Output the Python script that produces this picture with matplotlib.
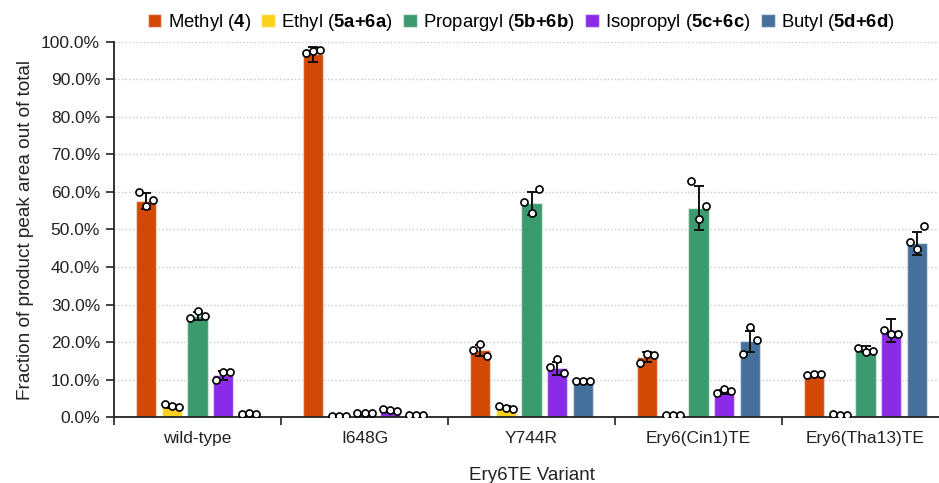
import numpy as np
import matplotlib.pyplot as plt
from matplotlib.ticker import FuncFormatter, FixedLocator

plt.rcParams['font.family'] = ['Liberation Sans', 'DejaVu Sans']
plt.rcParams['mathtext.fontset'] = 'custom'
plt.rcParams['mathtext.rm'] = 'Liberation Sans'
plt.rcParams['mathtext.bf'] = 'Liberation Sans:bold'

variants = ['wild-type', 'I648G', 'Y744R', 'Ery6(Cin1)TE', 'Ery6(Tha13)TE']

# mean values (%) per product
methyl = [57.6, 96.6, 17.8, 16.1, 11.3]
ethyl = [2.8, 0.4, 2.6, 0.6, 0.7]
propargyl = [27.0, 0.9, 57.0, 55.7, 18.1]
isopropyl = [11.2, 1.7, 13.0, 6.7, 23.2]
butyl = [0.9, 0.6, 9.7, 20.2, 46.3]

# error bars (%)
methyl_err = [2.2, 2.1, 1.5, 1.3, 0.1]
ethyl_err = [0.4, 0.1, 0.3, 0.1, 0.2]
propargyl_err = [1.0, 0.1, 3.1, 5.9, 0.8]
isopropyl_err = [1.2, 0.2, 1.8, 0.6, 3.1]
butyl_err = [0.1, 0.1, 0.1, 2.7, 3.0]

# replicate points (%)
methyl_pts = [[59.9, 56.2, 57.9], [96.9, 97.4, 97.8], [17.8, 19.4, 16.3],
              [14.4, 16.8, 16.7], [11.3, 11.4, 11.4]]
ethyl_pts = [[3.5, 3.0, 2.7], [0.3, 0.4, 0.4], [2.9, 2.6, 2.3],
             [0.7, 0.6, 0.7], [1.0, 0.5, 0.6]]
propargyl_pts = [[26.5, 28.2, 27.1], [1.2, 1.1, 1.1], [57.4, 54.3, 60.9],
                 [63.0, 52.7, 56.3], [18.4, 17.3, 17.7]]
isopropyl_pts = [[9.9, 12.1, 12.1], [2.2, 2.0, 1.8], [13.4, 15.5, 11.9],
                 [6.4, 7.6, 7.1], [23.2, 22.3, 22.3]]
butyl_pts = [[0.9, 1.1, 0.9], [0.7, 0.6, 0.7], [9.7, 9.7, 9.7],
             [16.9, 24.0, 20.5], [46.7, 44.9, 50.9]]

labels = [r'Methyl ($\mathbf{4}$)', r'Ethyl ($\mathbf{5a{+}6a}$)',
          r'Propargyl ($\mathbf{5b{+}6b}$)', r'Isopropyl ($\mathbf{5c{+}6c}$)',
          r'Butyl ($\mathbf{5d{+}6d}$)']
colors = ['#d14905', '#fdd21c', '#3c9a6f', '#8a2be8', '#45709c']

series = [methyl, ethyl, propargyl, isopropyl, butyl]
errors = [methyl_err, ethyl_err, propargyl_err, isopropyl_err, butyl_err]
points = [methyl_pts, ethyl_pts, propargyl_pts, isopropyl_pts, butyl_pts]

fig = plt.figure(figsize=(9.39, 4.83), dpi=100)
ax = fig.add_axes([114 / 939, 1 - 417.3 / 483, 835 / 939, 375.6 / 483])

centers = np.arange(len(variants)) + 0.5
step = 0.154
width = 0.12
jitter = [-0.042, 0.0, 0.042]

for k, (vals, errs, pts, lab, col) in enumerate(zip(series, errors, points, labels, colors)):
    x = centers + (k - 2) * step
    ax.bar(x, vals, width, color=col, edgecolor=(1, 1, 1, 0.5), linewidth=1,
           label=lab, zorder=2)
    ax.errorbar(x, vals, yerr=errs, fmt='none', ecolor='#111111', elinewidth=1.4,
                capsize=3.5, capthick=1.4, zorder=3)
    for xi, p in zip(x, pts):
        ax.scatter(xi + np.array(jitter), p, s=26, facecolor='white',
                   edgecolor='black', linewidth=1.2, zorder=4)

ax.set_xlim(0, 5)
ax.set_ylim(0, 100)
ax.set_yticks(np.arange(0, 101, 10))
ax.yaxis.set_major_formatter(FuncFormatter(lambda v, _: f'{v:.1f}%'))
ax.xaxis.set_major_locator(FixedLocator(np.arange(0, 6)))
ax.xaxis.set_minor_locator(FixedLocator(centers))
ax.set_xticklabels([], minor=False)
ax.set_xticklabels(variants, minor=True)
ax.tick_params(axis='x', which='major', length=6, width=1.2, color='#222222')
ax.tick_params(axis='x', which='minor', length=0, pad=10, labelsize=12.5,
               labelcolor='#222222')
ax.tick_params(axis='y', length=6, width=1.2, color='#222222', labelsize=12.5,
               labelcolor='#222222', pad=4)

ax.grid(axis='y', linestyle=':', color='#c8c8c8', linewidth=1, zorder=0)
for side in ['top', 'right']:
    ax.spines[side].set_visible(False)
for side in ['left', 'bottom']:
    ax.spines[side].set_linewidth(1.3)
    ax.spines[side].set_color('#222222')

ax.set_ylabel('Fraction of product peak area out of total', fontsize=13.7,
              color='#222222', labelpad=5)
ax.set_xlabel('Ery6TE Variant', fontsize=13.5, color='#222222', labelpad=15)

fig.legend(loc='upper center', bbox_to_anchor=(0.555, 1.01), ncol=5, frameon=False,
           fontsize=13.3, handlelength=0.75, handleheight=0.75, handletextpad=0.35,
           columnspacing=0.55)

fig.savefig('out.png', dpi=100)
